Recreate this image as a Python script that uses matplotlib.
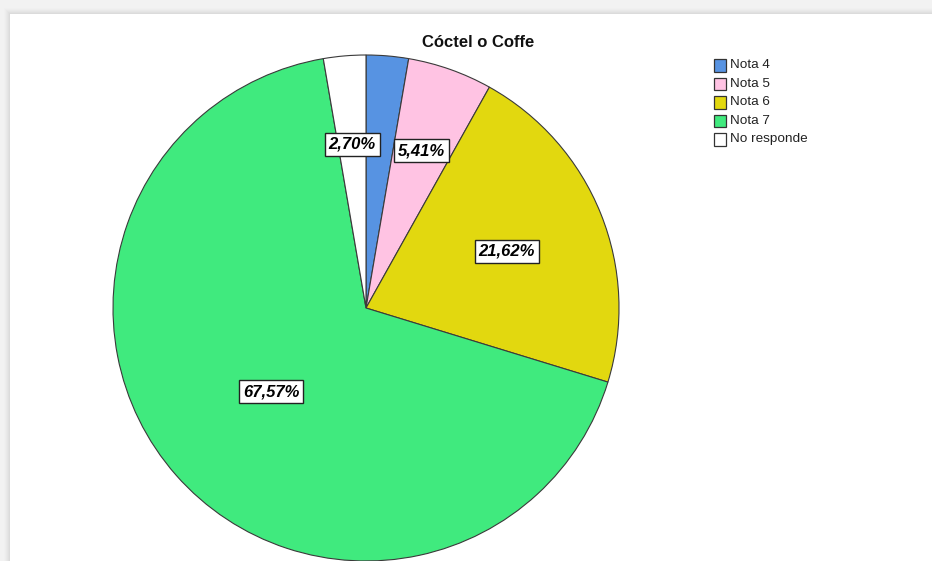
import matplotlib
matplotlib.use("Agg")
import matplotlib.pyplot as plt
from matplotlib.patches import Rectangle
import numpy as np

plt.rcParams['font.family'] = ['Liberation Sans', 'DejaVu Sans']

title = "Cóctel o Coffe"
categories = ["Nota 4", "Nota 5", "Nota 6", "Nota 7", "No responde"]
percents = [2.70, 5.41, 21.62, 67.57, 2.70]
colors = ["#5793e2", "#ffc3e3", "#e2d80f", "#40ea7e", "#ffffff"]
# slices whose value box is shown, and how far out along the radius it sits
shown = [False, True, True, True, True]
label_frac = [0.65, 0.66, 0.60, 0.50, 0.65]

W, H = 932, 561
fig = plt.figure(figsize=(W / 100, H / 100), dpi=100, facecolor="#f2f2f2")
ax = fig.add_axes([0, 0, 1, 1])
ax.set_xlim(0, W)
ax.set_ylim(0, H)
ax.set_aspect("equal")
ax.axis("off")

# window panel with a soft shadow along its top and left edges
for i, a in enumerate(np.linspace(0.02, 0.10, 6)):
    ax.add_patch(Rectangle((10 - 6 + i, -10), W, H - 14 + 6 - i + 10,
                           facecolor="#b0b0b0", edgecolor="none", alpha=a, zorder=0))
ax.add_patch(Rectangle((10, -10), W, H - 14 + 10, facecolor="white",
                       edgecolor="none", zorder=0.5))

cx, cy, R = 366, H - 308, 253
wedges, _ = ax.pie(percents, colors=colors, startangle=90, counterclock=False,
                   radius=R, center=(cx, cy), frame=True,
                   wedgeprops=dict(edgecolor="#3a3a3a", linewidth=0.8))
for w in wedges:
    w.set_zorder(2)
ax.set_xlim(0, W)
ax.set_ylim(0, H)
ax.axis("off")

for w, p, show, f in zip(wedges, percents, shown, label_frac):
    if not show:
        continue
    mid = np.deg2rad((w.theta1 + w.theta2) / 2)
    x = cx + f * R * np.cos(mid)
    y = cy + f * R * np.sin(mid)
    ax.text(x, y, f"{p:.2f}%".replace(".", ","), ha="center", va="center",
            fontsize=12, fontweight="bold", fontstyle="italic", zorder=5,
            bbox=dict(boxstyle="square,pad=0.24", facecolor="white",
                      edgecolor="#222222", linewidth=1.0))

ax.text(478, H - 42, title, ha="center", va="center", fontsize=12,
        fontweight="bold", color="#111111", zorder=5)

# legend
for i, (lab, c) in enumerate(zip(categories, colors)):
    yc = H - (65 + i * 18.5)
    ax.add_patch(Rectangle((713.5, yc - 6.5), 12.5, 12.5, facecolor=c,
                           edgecolor="#333333", linewidth=0.9, zorder=5))
    ax.text(730, yc, lab, ha="left", va="center", fontsize=9.7,
            color="#222222", zorder=5)

fig.savefig("out.png", dpi=100, facecolor=fig.get_facecolor())
